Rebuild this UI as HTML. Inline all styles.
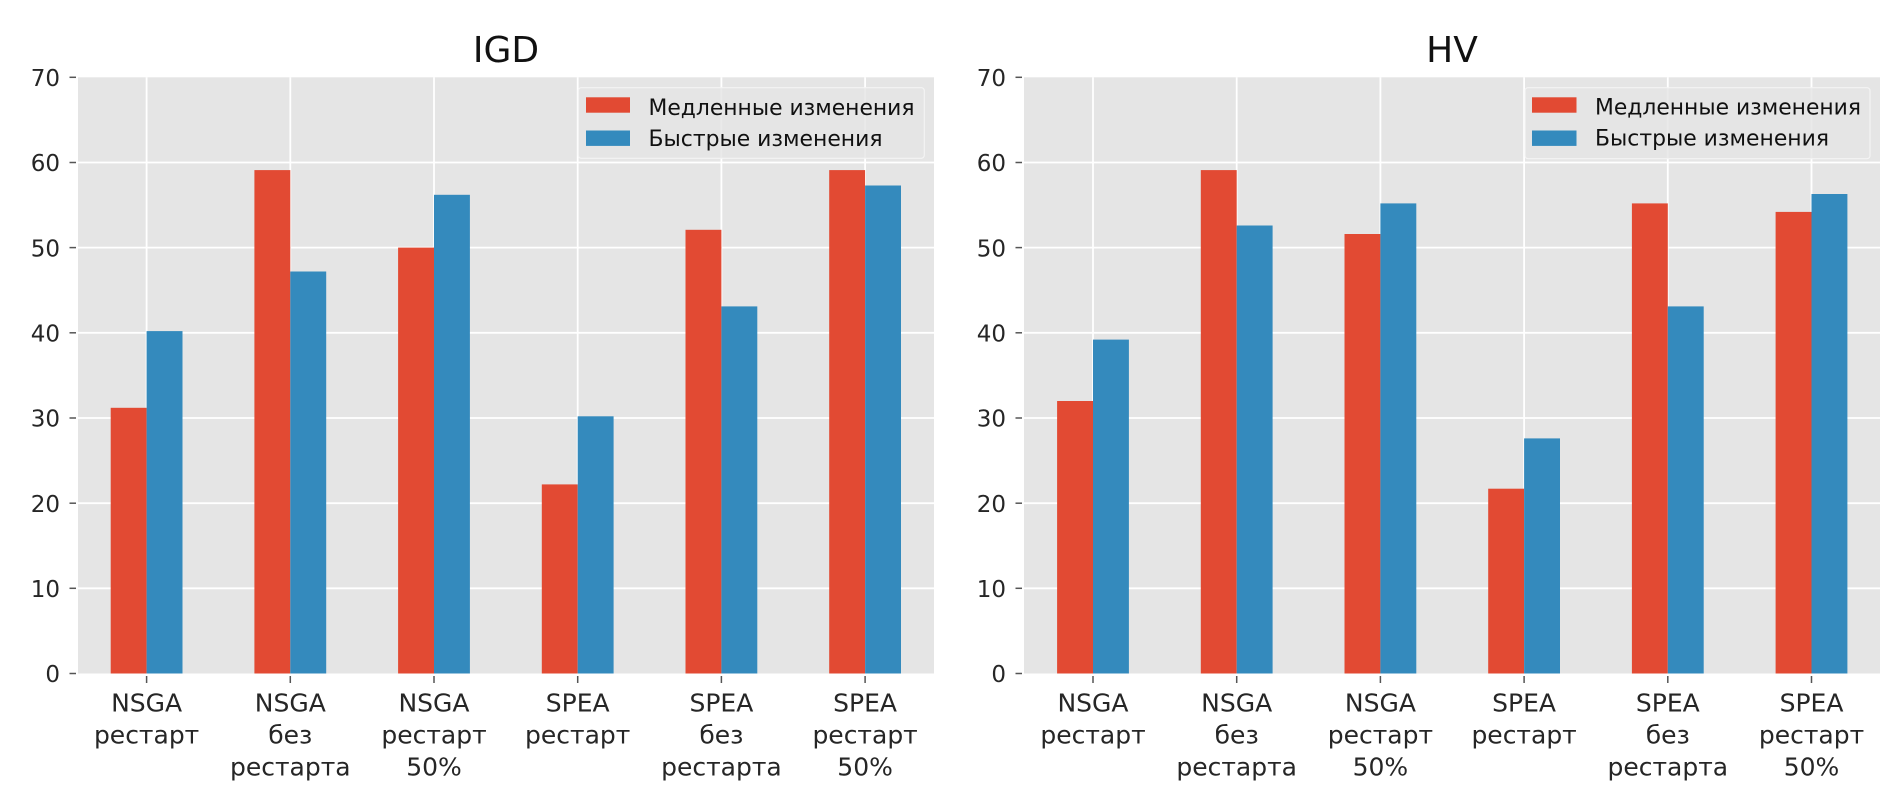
<!DOCTYPE html>
<html>
<head>
<meta charset="utf-8">
<style>
  html, body { margin: 0; padding: 0; background: #ffffff; }
  svg { display: block; }
  text { font-family: "DejaVu Sans", "Liberation Sans", sans-serif; }
</style>
</head>
<body>
<svg width="1900" height="809" viewBox="0 0 1900 809" xmlns="http://www.w3.org/2000/svg">
  <rect x="0" y="0" width="1900" height="809" fill="#ffffff"/>

  <!-- ================= LEFT PLOT (IGD) ================= -->
  <rect x="78" y="77.3" width="856" height="596.2" fill="#E5E5E5"/>
  <!-- horizontal grid -->
  <g stroke="#ffffff" stroke-width="1.8">
    <line x1="78" y1="588.3" x2="934" y2="588.3"/>
    <line x1="78" y1="503.2" x2="934" y2="503.2"/>
    <line x1="78" y1="418.0" x2="934" y2="418.0"/>
    <line x1="78" y1="332.8" x2="934" y2="332.8"/>
    <line x1="78" y1="247.6" x2="934" y2="247.6"/>
    <line x1="78" y1="162.5" x2="934" y2="162.5"/>
    <line x1="146.6" y1="77.3" x2="146.6" y2="673.5"/>
    <line x1="290.3" y1="77.3" x2="290.3" y2="673.5"/>
    <line x1="434.0" y1="77.3" x2="434.0" y2="673.5"/>
    <line x1="577.7" y1="77.3" x2="577.7" y2="673.5"/>
    <line x1="721.4" y1="77.3" x2="721.4" y2="673.5"/>
    <line x1="865.1" y1="77.3" x2="865.1" y2="673.5"/>
  </g>
  <!-- bars -->
  <g fill="#E24A33">
    <rect x="110.7" y="407.8" width="35.9" height="265.7"/>
    <rect x="254.4" y="170.1" width="35.9" height="503.4"/>
    <rect x="398.1" y="247.6" width="35.9" height="425.9"/>
    <rect x="541.8" y="484.4" width="35.9" height="189.1"/>
    <rect x="685.5" y="229.8" width="35.9" height="443.7"/>
    <rect x="829.2" y="170.1" width="35.9" height="503.4"/>
  </g>
  <g fill="#348ABD">
    <rect x="146.6" y="331.1" width="35.9" height="342.4"/>
    <rect x="290.3" y="271.5" width="35.9" height="402.0"/>
    <rect x="434.0" y="194.8" width="35.9" height="478.7"/>
    <rect x="577.7" y="416.3" width="35.9" height="257.2"/>
    <rect x="721.4" y="306.4" width="35.9" height="367.1"/>
    <rect x="865.1" y="185.5" width="35.9" height="488.0"/>
  </g>
  <!-- y ticks -->
  <g stroke="#555555" stroke-width="1.5">
    <line x1="69.5" y1="673.5" x2="76" y2="673.5"/>
    <line x1="69.5" y1="588.3" x2="76" y2="588.3"/>
    <line x1="69.5" y1="503.2" x2="76" y2="503.2"/>
    <line x1="69.5" y1="418.0" x2="76" y2="418.0"/>
    <line x1="69.5" y1="332.8" x2="76" y2="332.8"/>
    <line x1="69.5" y1="247.6" x2="76" y2="247.6"/>
    <line x1="69.5" y1="162.5" x2="76" y2="162.5"/>
    <line x1="69.5" y1="77.3" x2="76" y2="77.3"/>
    <line x1="146.6" y1="676" x2="146.6" y2="683"/>
    <line x1="290.3" y1="676" x2="290.3" y2="683"/>
    <line x1="434.0" y1="676" x2="434.0" y2="683"/>
    <line x1="577.7" y1="676" x2="577.7" y2="683"/>
    <line x1="721.4" y1="676" x2="721.4" y2="683"/>
    <line x1="865.1" y1="676" x2="865.1" y2="683"/>
  </g>
  <g font-size="23" fill="#262626" text-anchor="end">
    <text x="60" y="682.2">0</text>
    <text x="60" y="597.0">10</text>
    <text x="60" y="511.9">20</text>
    <text x="60" y="426.7">30</text>
    <text x="60" y="341.5">40</text>
    <text x="60" y="256.3">50</text>
    <text x="60" y="171.2">60</text>
    <text x="60" y="86.0">70</text>
  </g>
  <!-- x labels -->
  <g font-size="25" fill="#262626" text-anchor="middle">
    <text x="146.6" y="711.5">NSGA</text>
    <text x="146.6" y="743.5">рестарт</text>

    <text x="290.3" y="711.5">NSGA</text>
    <text x="290.3" y="743.5">без</text>
    <text x="290.3" y="775.5">рестарта</text>

    <text x="434.0" y="711.5">NSGA</text>
    <text x="434.0" y="743.5">рестарт</text>
    <text x="434.0" y="775.5">50%</text>

    <text x="577.7" y="711.5">SPEA</text>
    <text x="577.7" y="743.5">рестарт</text>

    <text x="721.4" y="711.5">SPEA</text>
    <text x="721.4" y="743.5">без</text>
    <text x="721.4" y="775.5">рестарта</text>

    <text x="865.1" y="711.5">SPEA</text>
    <text x="865.1" y="743.5">рестарт</text>
    <text x="865.1" y="775.5">50%</text>
  </g>
  <!-- title -->
  <text x="506" y="62" font-size="36" fill="#111111" text-anchor="middle">IGD</text>
  <!-- legend -->
  <rect x="578.3" y="87.7" width="346" height="70.6" rx="3" ry="3" fill="rgba(229,229,229,0.8)" stroke="rgba(245,245,245,0.9)" stroke-width="1.2"/>
  <rect x="586" y="97.3" width="44" height="15.4" fill="#E24A33"/>
  <rect x="586" y="130.5" width="44" height="15.4" fill="#348ABD"/>
  <text x="648.5" y="115" font-size="22" fill="#111111" textLength="266" lengthAdjust="spacingAndGlyphs">Медленные изменения</text>
  <text x="648.5" y="146" font-size="22" fill="#111111" textLength="234" lengthAdjust="spacingAndGlyphs">Быстрые изменения</text>

  <!-- ================= RIGHT PLOT (HV) ================= -->
  <rect x="1024" y="77.3" width="856" height="596.2" fill="#E5E5E5"/>
  <g stroke="#ffffff" stroke-width="1.8">
    <line x1="1024" y1="588.3" x2="1880" y2="588.3"/>
    <line x1="1024" y1="503.2" x2="1880" y2="503.2"/>
    <line x1="1024" y1="418.0" x2="1880" y2="418.0"/>
    <line x1="1024" y1="332.8" x2="1880" y2="332.8"/>
    <line x1="1024" y1="247.6" x2="1880" y2="247.6"/>
    <line x1="1024" y1="162.5" x2="1880" y2="162.5"/>
    <line x1="1093.0" y1="77.3" x2="1093.0" y2="673.5"/>
    <line x1="1236.7" y1="77.3" x2="1236.7" y2="673.5"/>
    <line x1="1380.4" y1="77.3" x2="1380.4" y2="673.5"/>
    <line x1="1524.1" y1="77.3" x2="1524.1" y2="673.5"/>
    <line x1="1667.8" y1="77.3" x2="1667.8" y2="673.5"/>
    <line x1="1811.5" y1="77.3" x2="1811.5" y2="673.5"/>
  </g>
  <g fill="#E24A33">
    <rect x="1057.1" y="401.0" width="35.9" height="272.5"/>
    <rect x="1200.8" y="170.1" width="35.9" height="503.4"/>
    <rect x="1344.5" y="234.0" width="35.9" height="439.5"/>
    <rect x="1488.2" y="488.7" width="35.9" height="184.8"/>
    <rect x="1631.9" y="203.4" width="35.9" height="470.1"/>
    <rect x="1775.6" y="211.9" width="35.9" height="461.6"/>
  </g>
  <g fill="#348ABD">
    <rect x="1093.0" y="339.6" width="35.9" height="333.9"/>
    <rect x="1236.7" y="225.5" width="35.9" height="448.0"/>
    <rect x="1380.4" y="203.4" width="35.9" height="470.1"/>
    <rect x="1524.1" y="438.4" width="35.9" height="235.1"/>
    <rect x="1667.8" y="306.4" width="35.9" height="367.1"/>
    <rect x="1811.5" y="194.0" width="35.9" height="479.5"/>
  </g>
  <g stroke="#555555" stroke-width="1.5">
    <line x1="1015.5" y1="673.5" x2="1022" y2="673.5"/>
    <line x1="1015.5" y1="588.3" x2="1022" y2="588.3"/>
    <line x1="1015.5" y1="503.2" x2="1022" y2="503.2"/>
    <line x1="1015.5" y1="418.0" x2="1022" y2="418.0"/>
    <line x1="1015.5" y1="332.8" x2="1022" y2="332.8"/>
    <line x1="1015.5" y1="247.6" x2="1022" y2="247.6"/>
    <line x1="1015.5" y1="162.5" x2="1022" y2="162.5"/>
    <line x1="1015.5" y1="77.3" x2="1022" y2="77.3"/>
    <line x1="1093.0" y1="676" x2="1093.0" y2="683"/>
    <line x1="1236.7" y1="676" x2="1236.7" y2="683"/>
    <line x1="1380.4" y1="676" x2="1380.4" y2="683"/>
    <line x1="1524.1" y1="676" x2="1524.1" y2="683"/>
    <line x1="1667.8" y1="676" x2="1667.8" y2="683"/>
    <line x1="1811.5" y1="676" x2="1811.5" y2="683"/>
  </g>
  <g font-size="23" fill="#262626" text-anchor="end">
    <text x="1006" y="682.2">0</text>
    <text x="1006" y="597.0">10</text>
    <text x="1006" y="511.9">20</text>
    <text x="1006" y="426.7">30</text>
    <text x="1006" y="341.5">40</text>
    <text x="1006" y="256.3">50</text>
    <text x="1006" y="171.2">60</text>
    <text x="1006" y="86.0">70</text>
  </g>
  <g font-size="25" fill="#262626" text-anchor="middle">
    <text x="1093.0" y="711.5">NSGA</text>
    <text x="1093.0" y="743.5">рестарт</text>

    <text x="1236.7" y="711.5">NSGA</text>
    <text x="1236.7" y="743.5">без</text>
    <text x="1236.7" y="775.5">рестарта</text>

    <text x="1380.4" y="711.5">NSGA</text>
    <text x="1380.4" y="743.5">рестарт</text>
    <text x="1380.4" y="775.5">50%</text>

    <text x="1524.1" y="711.5">SPEA</text>
    <text x="1524.1" y="743.5">рестарт</text>

    <text x="1667.8" y="711.5">SPEA</text>
    <text x="1667.8" y="743.5">без</text>
    <text x="1667.8" y="775.5">рестарта</text>

    <text x="1811.5" y="711.5">SPEA</text>
    <text x="1811.5" y="743.5">рестарт</text>
    <text x="1811.5" y="775.5">50%</text>
  </g>
  <text x="1452" y="62" font-size="36" fill="#111111" text-anchor="middle">HV</text>
  <rect x="1525" y="87.7" width="345" height="71" rx="3" ry="3" fill="rgba(229,229,229,0.8)" stroke="rgba(245,245,245,0.9)" stroke-width="1.2"/>
  <rect x="1532" y="97.3" width="44.5" height="15.4" fill="#E24A33"/>
  <rect x="1532" y="130.5" width="44.5" height="15.4" fill="#348ABD"/>
  <text x="1595" y="114.5" font-size="22" fill="#111111" textLength="266" lengthAdjust="spacingAndGlyphs">Медленные изменения</text>
  <text x="1595" y="145.5" font-size="22" fill="#111111" textLength="234" lengthAdjust="spacingAndGlyphs">Быстрые изменения</text>
</svg>
</body>
</html>
